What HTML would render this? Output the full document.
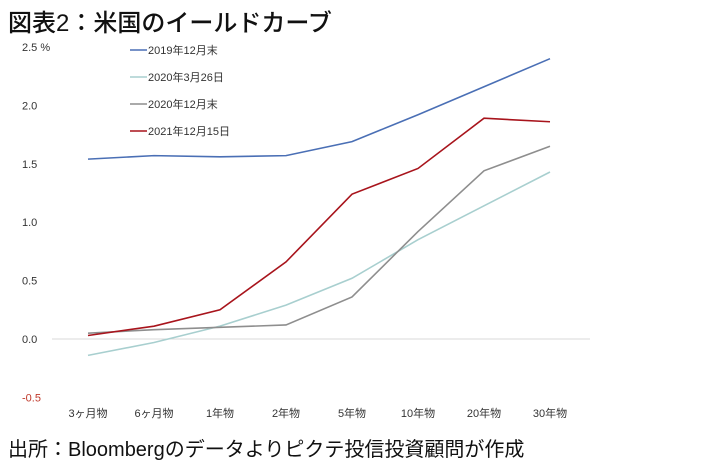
<!DOCTYPE html>
<html><head><meta charset="utf-8"><style>
body{margin:0;background:#fff;width:702px;height:466px;overflow:hidden;font-family:"Liberation Sans","Noto Sans CJK JP",sans-serif}
</style></head><body>
<svg width="702" height="466" xmlns="http://www.w3.org/2000/svg" style="font-family:'Liberation Sans','Noto Sans CJK JP',sans-serif">
<text x="8" y="31" font-size="24" fill="#111" font-weight="500">図表2：米国のイールドカーブ</text>
<text x="8" y="456" font-size="20" fill="#111">出所：Bloombergのデータよりピクテ投信投資顧問が作成</text>
<g id="axes"></g><g id="series"></g><g id="legend"></g>
</svg>
<script>
const categories=["3ヶ月物","6ヶ月物","1年物","2年物","5年物","10年物","20年物","30年物"];
const seriesNames=["2019年12月末","2020年3月26日","2020年12月末","2021年12月15日"];
const s2019=[1.54,1.57,1.56,1.57,1.69,1.92,2.16,2.40];
const s2020mar=[-0.14,-0.03,0.11,0.29,0.52,0.85,1.14,1.43];
const s2020dec=[0.05,0.08,0.10,0.12,0.36,0.92,1.44,1.65];
const s2021=[0.03,0.11,0.25,0.66,1.24,1.46,1.89,1.86];
const yTicks=[-0.5,0,0.5,1.0,1.5,2.0,2.5];
const colors=["#4a6fb5","#a8cfcf","#8e8e8e","#a8141c"];
const NS="http://www.w3.org/2000/svg";
const xs=i=>88+i*66;
const ys=v=>339-v*116.8;
function mk(t,a,p){const e=document.createElementNS(NS,t);for(const k in a)e.setAttribute(k,a[k]);p.appendChild(e);return e;}
const ax=document.getElementById('axes');
const zl=mk('line',{x1:52,x2:590,y1:ys(0),y2:ys(0),stroke:'#d9d9d9','stroke-width':1},ax);


yTicks.forEach(v=>{
  const t=mk('text',{x:22,y:ys(v)+4,'font-size':11,fill:v<0?'#c0392b':'#333'},ax);
  t.textContent=(v<0?'-':'')+Math.abs(v).toFixed(1)+(v===2.5?'  %':'');
  
  
});
categories.forEach((c,i)=>{
  const t=mk('text',{x:xs(i),y:417,'font-size':11,fill:'#333','text-anchor':'middle'},ax);
  t.textContent=c;
  
  
});
const sg=document.getElementById('series');
[s2019,s2020mar,s2020dec,s2021].forEach((d,k)=>{
  const p=mk('polyline',{points:d.map((v,i)=>xs(i)+','+ys(v)).join(' '),fill:'none',stroke:colors[k],'stroke-width':1.6},sg);
  
  
});
const lg=document.getElementById('legend');
seriesNames.forEach((n,k)=>{
  const y=50+k*27;
  const g=mk('g',{},lg);
  
  
  mk('line',{x1:130,x2:147,y1:y,y2:y,stroke:colors[k],'stroke-width':1.6},g);
  const t=mk('text',{x:148,y:y+4,'font-size':11,fill:'#333'},g);
  t.textContent=n;
});
</script>
</body></html>
